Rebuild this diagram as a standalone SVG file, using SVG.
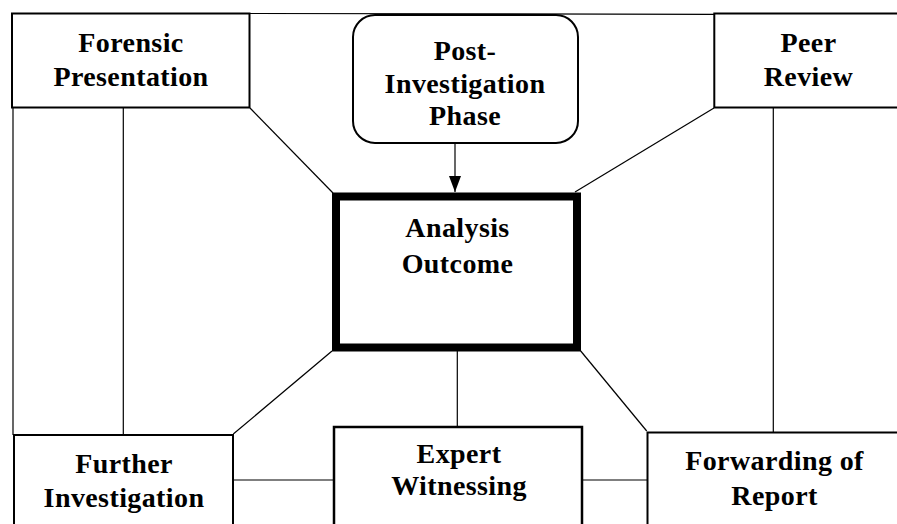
<svg xmlns="http://www.w3.org/2000/svg" width="897" height="524" viewBox="0 0 897 524">
<style>
  .box { fill: #fff; stroke: #000; stroke-width: 2; }
  .thick { fill: #fff; stroke: #000; stroke-width: 8; }
  .conn { stroke: #000; stroke-width: 1.2; fill: none; }
  text { font-family: "Liberation Serif", "Times New Roman", serif; font-weight: bold; font-size: 28px; letter-spacing: 0.4px; text-anchor: middle; fill: #000; }
</style>
<defs>
  <marker id="arrow" viewBox="0 0 16 12" refX="16" refY="6" markerWidth="16" markerHeight="12" markerUnits="userSpaceOnUse" orient="auto">
    <path d="M0,0 L16,6 L0,12 Z" fill="#000"/>
  </marker>
</defs>
<rect width="897" height="524" fill="#fff"/>
<g id="connectors">
  <line class="conn" x1="249" y1="13.5" x2="714" y2="14.3"/>
  <line class="conn" x1="13" y1="108" x2="13" y2="435"/>
  <line class="conn" x1="123.3" y1="108" x2="123.3" y2="435"/>
  <line class="conn" x1="773.3" y1="108" x2="773.3" y2="432"/>
  <line class="conn" x1="457.3" y1="350" x2="457.3" y2="427"/>
  <line class="conn" x1="233" y1="480" x2="334" y2="480"/>
  <line class="conn" x1="582" y1="480" x2="647" y2="480"/>
  <line class="conn" x1="250" y1="108" x2="333" y2="193"/>
  <line class="conn" x1="714" y1="108" x2="575" y2="192"/>
  <line class="conn" x1="332" y1="351" x2="233.3" y2="434"/>
  <line class="conn" x1="580.7" y1="351" x2="646.7" y2="431"/>
  <line class="conn" x1="455" y1="143" x2="455" y2="192" marker-end="url(#arrow)"/>
</g>
<g id="forensic-presentation">
  <rect class="box" x="12" y="13.5" width="237.5" height="94"/>
  <text x="131" y="52">Forensic</text>
  <text x="131" y="86">Presentation</text>
</g>
<g id="post-investigation">
  <rect class="box" x="353" y="15" width="225" height="128" rx="22" ry="22"/>
  <text x="465" y="60">Post-</text>
  <text x="465" y="93">Investigation</text>
  <text x="465" y="125">Phase</text>
</g>
<g id="peer-review">
  <rect class="box" x="714.3" y="13.5" width="190" height="94"/>
  <text x="808.5" y="52">Peer</text>
  <text x="808.5" y="86">Review</text>
</g>
<g id="analysis-outcome">
  <rect class="thick" x="336" y="196.5" width="241" height="151"/>
  <text x="457.5" y="237">Analysis</text>
  <text x="457.5" y="273">Outcome</text>
</g>
<g id="further-investigation">
  <rect class="box" x="14" y="435" width="219" height="100"/>
  <text x="124" y="473">Further</text>
  <text x="124" y="507">Investigation</text>
</g>
<g id="expert-witnessing">
  <rect class="box" x="334" y="427" width="248" height="110" style="stroke-width:2.5"/>
  <text x="459" y="463">Expert</text>
  <text x="459" y="495">Witnessing</text>
</g>
<g id="forwarding-report">
  <rect class="box" x="647.5" y="432.5" width="254" height="100"/>
  <text x="774.5" y="470">Forwarding of</text>
  <text x="774.5" y="505">Report</text>
</g>
</svg>
